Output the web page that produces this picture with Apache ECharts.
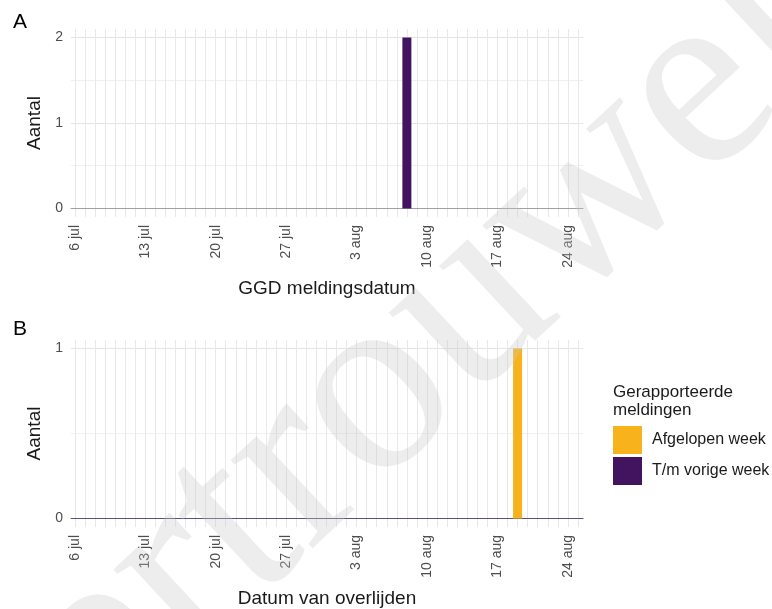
<!DOCTYPE html>
<html><head><meta charset="utf-8">
<script src="https://cdn.jsdelivr.net/npm/echarts@6/dist/echarts.min.js"></script>
<style>html,body{margin:0;padding:0;background:#fff}#c{width:772px;height:609px}</style>
</head><body><div id="c"></div>
<script>
// ---- data ----
const tickDates = ['2020-07-06','2020-07-13','2020-07-20','2020-07-27','2020-08-03','2020-08-10','2020-08-17','2020-08-24'];
const tickLabels = ['6 jul','13 jul','20 jul','27 jul','3 aug','10 aug','17 aug','24 aug'];
const seriesNames = ['Afgelopen week','T/m vorige week'];
const meldDates = ['2020-08-08'];
const meldAfgelopen = [0];
const meldVorige = [2];
const overlDates = ['2020-08-19'];
const overlAfgelopen = [1];
const overlVorige = [0];
const yLabelsA = [0,1,2];
const yMinorA = [0.5,1.5];
const yLabelsB = [0,1];
const yMinorB = [0.5];
const watermark = 'vertrouwelijk';

// ---- helpers ----
function ts(s){const p=s.split('-').map(Number);return new Date(p[0],p[1]-1,p[2]).getTime();}
const tickTs = tickDates.map(ts);
const dayTicks = [];
for(let i=0;i<=50;i++){dayTicks.push(new Date(2020,6,6+i).getTime());}
const xMin = new Date(2020,6,5,15).getTime();
const xMax = new Date(2020,7,25,12).getTime();
const FONT = "'Liberation Sans', Arial, sans-serif";
const ORANGE = '#F8B31C', PURPLE = '#42145F';

function xAxis(gridIndex, name, lineColor){
  return {
    type:'value', gridIndex, min:xMin, max:xMax, name,
    nameLocation:'middle', nameGap:62,
    nameTextStyle:{fontSize:19,color:'#1a1a1a',fontFamily:FONT},
    axisLine:{show:true,onZero:true,lineStyle:{color:lineColor,width:1}},
    axisTick:{show:false,customValues:dayTicks},
    axisLabel:{customValues:tickTs,rotate:90,margin:8,fontSize:14,color:'#4d4d4d',fontFamily:FONT,
      formatter:function(v){const i=tickTs.indexOf(v);return i>=0?tickLabels[i]:'';}},
    splitLine:{show:true,lineStyle:{color:'#e8e8e8',width:1}}
  };
}
function yAxes(gridIndex, min, max, major, minor){
  return [{
    type:'value', gridIndex, min, max, name:'Aantal', nameLocation:'middle', nameGap:24,
    nameTextStyle:{fontSize:19,color:'#1a1a1a',fontFamily:FONT},
    axisLine:{show:false}, axisTick:{show:false,customValues:major},
    axisLabel:{customValues:major,margin:8,fontSize:14,color:'#4d4d4d',fontFamily:FONT},
    splitLine:{show:true,lineStyle:{color:'#e4e4e4',width:1}}
  },{
    type:'value', gridIndex, min, max, position:'left',
    axisLine:{show:false}, axisTick:{show:false,customValues:minor},
    axisLabel:{show:false,customValues:minor},
    splitLine:{show:true,lineStyle:{color:'#f0f0f0',width:1}}
  }];
}
function pairs(dates, vals){return dates.map((d,i)=>[ts(d),vals[i]]);}

const chart = echarts.init(document.getElementById('c'));
chart.setOption({
  animation:false,
  backgroundColor:'#fff',
  textStyle:{fontFamily:FONT},
  grid:[
    {left:71,width:512,top:29,height:188},
    {left:71,width:512,top:340,height:188}
  ],
  xAxis:[xAxis(0,'GGD meldingsdatum','#a29fa8'), xAxis(1,'Datum van overlijden','#5c5080')],
  yAxis:[].concat(yAxes(0,-0.1,2.1,yLabelsA,yMinorA), yAxes(1,-0.05,1.05,yLabelsB,yMinorB)),
  legend:{
    data:seriesNames, orient:'vertical', left:613, top:426, itemWidth:29, itemHeight:28, itemGap:3,
    icon:'rect', padding:0, textStyle:{fontSize:16,color:'#1a1a1a',fontFamily:FONT,padding:[0,0,0,5]},
    selectedMode:false
  },
  graphic:[
    {type:'text',left:13,top:12,style:{text:'A',fontSize:21,fill:'#000',fontFamily:FONT}},
    {type:'text',left:13,top:319,style:{text:'B',fontSize:21,fill:'#000',fontFamily:FONT}},
    {type:'text',left:613,top:383,style:{text:'Gerapporteerde\nmeldingen',fontSize:17,lineHeight:18,fill:'#1a1a1a',fontFamily:FONT}},
    {type:'text',x:480,y:298,rotation:43*Math.PI/180,z:100,silent:true,
      style:{text:watermark,fontSize:262,fontFamily:"'Liberation Serif','DejaVu Serif',serif",
        fill:'rgba(200,200,200,0.33)',textAlign:'center',textVerticalAlign:'middle'}}
  ],
  series:[
    {name:seriesNames[0],type:'bar',xAxisIndex:0,yAxisIndex:0,stack:'a',barWidth:9,itemStyle:{color:ORANGE},data:pairs(meldDates,meldAfgelopen)},
    {name:seriesNames[1],type:'bar',xAxisIndex:0,yAxisIndex:0,stack:'a',barWidth:9,itemStyle:{color:PURPLE},data:pairs(meldDates,meldVorige)},
    {name:seriesNames[0],type:'bar',xAxisIndex:1,yAxisIndex:2,stack:'b',barWidth:9,itemStyle:{color:ORANGE},data:pairs(overlDates,overlAfgelopen)},
    {name:seriesNames[1],type:'bar',xAxisIndex:1,yAxisIndex:2,stack:'b',barWidth:9,itemStyle:{color:PURPLE},data:pairs(overlDates,overlVorige)}
  ]
});
</script></body></html>
